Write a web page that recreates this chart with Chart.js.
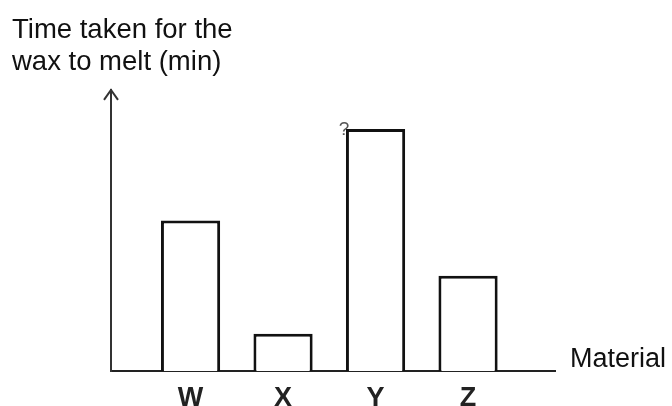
<!DOCTYPE html>
<html>
<head>
<meta charset="utf-8">
<script src="https://cdn.jsdelivr.net/npm/chart.js@4"></script>
<style>
  html, body { margin: 0; padding: 0; background: #fff; }
  #wrap { width: 672px; height: 406px; }
</style>
</head>
<body>
<div id="wrap"><canvas id="meltChart"></canvas></div>
<script>
// values (no scale printed, so minutes are estimated)
const materials = ['W', 'X', 'Y', 'Z'];
const meltTimes = [15.0, 3.7, 24.1, 9.5];
const yTitle = ['Time taken for the', 'wax to melt (min)'];
const xTitle = 'Material';
const yMax = 28;

const ink = '#111';
const fontFamily = '"Liberation Sans", Arial, sans-serif';

// arrow on the y axis, the axis name on the right, and the stray mark by bar Y
const axisExtras = {
  id: 'axisExtras',
  afterDraw(chart) {
    const ctx = chart.ctx;
    const {left, right, top, bottom} = chart.chartArea;
    ctx.save();
    ctx.strokeStyle = '#333';
    ctx.lineWidth = 2;
    ctx.beginPath();
    ctx.moveTo(left - 7, top + 10);
    ctx.lineTo(left, top);
    ctx.lineTo(left + 7, top + 10);
    ctx.stroke();

    ctx.fillStyle = ink;
    ctx.font = '27px ' + fontFamily;
    ctx.textBaseline = 'middle';
    ctx.fillText(xTitle, right + 15, bottom - 11);

    const yBar = chart.getDatasetMeta(0).data[2];
    if (yBar) {
      ctx.font = '19px ' + fontFamily;
      ctx.fillStyle = '#555';
      ctx.textAlign = 'center';
      ctx.fillText('?', yBar.x - yBar.width / 2 - 2, yBar.y + 1);
    }
    ctx.restore();
  }
};

new Chart(document.getElementById('meltChart'), {
  type: 'bar',
  data: {
    datasets: [{
      data: meltTimes.map((v, i) => ({ x: i, y: v })),
      backgroundColor: '#ffffff',
      borderColor: ink,
      borderWidth: 3,
      borderSkipped: 'bottom',
      barPercentage: 0.64,
      categoryPercentage: 1
    }]
  },
  options: {
    responsive: true,
    maintainAspectRatio: false,
    animation: false,
    layout: { padding: { left: 12, right: 117, top: 0, bottom: 0 } },
    plugins: {
      legend: { display: false },
      tooltip: { enabled: false },
      title: {
        display: true,
        text: yTitle,
        align: 'start',
        color: ink,
        font: { family: fontFamily, size: 27.5, weight: 'normal', lineHeight: 1.18 },
        padding: { top: 14, bottom: 11 }
      }
    },
    scales: {
      x: {
        type: 'linear',
        offset: false,
        min: -0.86,
        max: 3.94,
        grid: { display: false },
        border: { display: true, color: '#222', width: 2 },
        afterBuildTicks: s => { s.ticks = materials.map((_, i) => ({ value: i })); },
        afterFit: s => { s.height = 35; },
        ticks: {
          color: '#222',
          padding: 3,
          font: { family: fontFamily, size: 27, weight: 'bold' },
          callback: v => materials[v]
        }
      },
      y: {
        min: 0,
        max: yMax,
        grid: { display: false },
        border: { display: true, color: '#333', width: 2 },
        ticks: { display: false },
        afterFit: s => { s.width = 99; }
      }
    }
  },
  plugins: [axisExtras]
});
</script>
</body>
</html>
